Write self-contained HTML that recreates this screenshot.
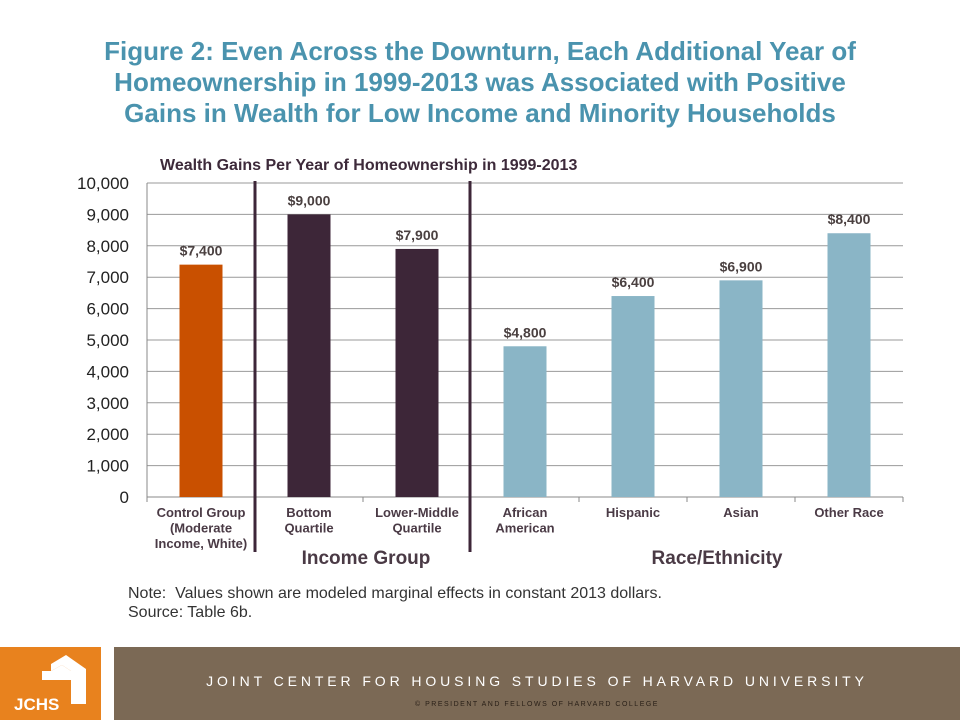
<!DOCTYPE html>
<html><head><meta charset="utf-8"><style>
body{margin:0;width:960px;height:720px;background:#fff;position:relative;overflow:hidden;font-family:"Liberation Sans",sans-serif}
.t{position:absolute;left:0;width:960px;text-align:center;color:#4a93ae;font-weight:bold;font-size:26px;line-height:31px;top:36px}
</style></head><body>
<div class="t">Figure 2: Even Across the Downturn, Each Additional Year of<br>Homeownership in 1999-2013 was Associated with Positive<br>Gains in Wealth for Low Income and Minority Households</div>
<svg id="c" width="960" height="640" style="position:absolute;left:0;top:0"></svg>
<div style="position:absolute;left:128px;top:584px;font-size:16px;color:#333;line-height:19px">Note:&nbsp; Values shown are modeled marginal effects in constant 2013 dollars.<br>Source: Table 6b.</div>
<div style="position:absolute;left:0;top:647px;width:101px;height:73px;background:#e8821e">
<svg width="101" height="73"><polygon points="51,17 66,8 86,22 86,57 71,57 71,24 62,18 51,24 51,17" fill="#fff"/><polygon points="42,24 42,33 71,33 71,24 62,18 51,24" fill="#fff"/><text x="14" y="63" fill="#fff" font-size="17" font-weight="bold" font-family="Liberation Sans">JCHS</text></svg></div>
<div style="position:absolute;left:114px;top:647px;width:846px;height:73px;background:#7b6955">
<div style="position:absolute;left:0;width:846px;top:26px;text-align:center;color:#fff;font-size:14px;letter-spacing:3.9px">JOINT CENTER FOR HOUSING STUDIES OF HARVARD UNIVERSITY</div>
<div style="position:absolute;left:0;width:846px;top:54px;text-align:center;color:#2a2018;font-size:7px;letter-spacing:1.5px">© PRESIDENT AND FELLOWS OF HARVARD COLLEGE</div></div>
<script>
const categories=["Control Group|(Moderate|Income, White)","Bottom|Quartile","Lower-Middle|Quartile","African|American","Hispanic","Asian","Other Race"];
const values=[7400,9000,7900,4800,6400,6900,8400];
const valueLabels=["$7,400","$9,000","$7,900","$4,800","$6,400","$6,900","$8,400"];
const colors=["#c95000","#3d2638","#3d2638","#8ab5c6","#8ab5c6","#8ab5c6","#8ab5c6"];
const yTicks=[0,1000,2000,3000,4000,5000,6000,7000,8000,9000,10000];
const NS="http://www.w3.org/2000/svg",svg=document.getElementById('c');
const L=147,R=903,T=183,B=497,yMax=10000,bw=(R-L)/categories.length;
const y=v=>B-(v/yMax)*(B-T),xc=i=>L+bw*(i+0.5);
function mk(t,a,p){const e=document.createElementNS(NS,t);for(const k in a)e.setAttribute(k,a[k]);(p||svg).appendChild(e);return e;}
let tt=mk('text',{x:160,y:170,'font-size':16,'font-weight':'bold',fill:'#3d2a3a','font-family':'Liberation Sans'});tt.textContent="Wealth Gains Per Year of Homeownership in 1999-2013";


yTicks.forEach(v=>{
 const g=mk('line',{x1:L,x2:R,y1:y(v),y2:y(v),stroke:v?'#999':'#888','stroke-width':1});
 
 
 const t=mk('text',{x:129,y:y(v)+6,'text-anchor':'end','font-size':17,fill:'#222','font-family':'Liberation Sans'});t.textContent=v.toLocaleString('en-US');
 
 
});
mk('line',{x1:L,x2:L,y1:T,y2:B,stroke:'#888'});
for(let i=0;i<=categories.length;i++){const tk=mk('line',{x1:L+bw*i,x2:L+bw*i,y1:B,y2:B+5,stroke:'#888'});
 
 }
values.forEach((v,i)=>{
 const r=mk('rect',{x:xc(i)-21.5,y:y(v),width:43,height:B-y(v),fill:colors[i]});
 
 
 const t=mk('text',{x:xc(i),y:y(v)-9,'text-anchor':'middle','font-size':14,'font-weight':'bold',fill:'#4a4040','font-family':'Liberation Sans'});t.textContent=valueLabels[i];
 
 
 categories[i].split('|').forEach((s,j)=>{const c=mk('text',{x:xc(i),y:517+j*15.5,'text-anchor':'middle','font-size':13,'font-weight':'bold',fill:'#4a3a45','font-family':'Liberation Sans'});c.textContent=s;
 
 });
});
[255,470].forEach(x=>{const s=mk('line',{x1:x,x2:x,y1:181,y2:552,stroke:'#3d2638','stroke-width':3});
 
 });
[["Income Group",366],["Race/Ethnicity",717]].forEach(([s,x])=>{const g=mk('text',{x:x,y:564,'text-anchor':'middle','font-size':19,'font-weight':'bold',fill:'#4a3a45','font-family':'Liberation Sans'});g.textContent=s;
 
 });
</script>
</body></html>
